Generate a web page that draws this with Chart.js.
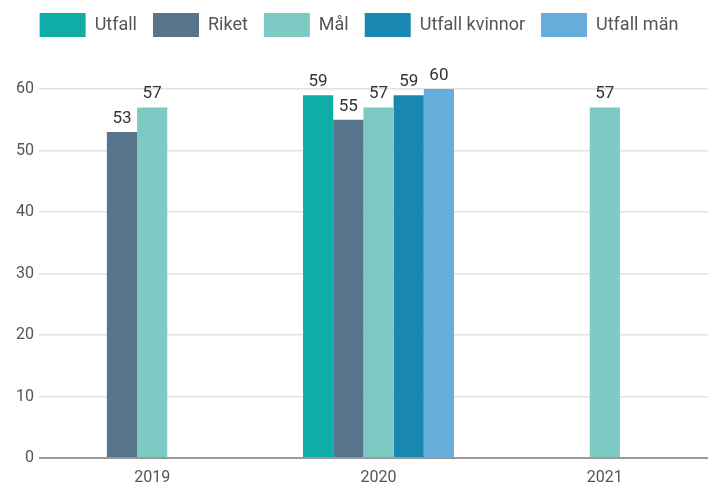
<!DOCTYPE html>
<html>
<head>
<meta charset="utf-8">
<script src="https://cdn.jsdelivr.net/npm/chart.js@4"></script>
<style>
  html, body { margin: 0; padding: 0; background: #fff; overflow: hidden; }
  #wrap { width: 720px; height: 484px; }
</style>
</head>
<body>
<div id="wrap"><canvas id="chart" width="720" height="484"></canvas></div>
<script>
// Data
const years = ['2019', '2020', '2021'];
const utfall = [null, 59, null];
const riket = [53, 55, null];
const mal = [57, 57, 57];
const utfallKvinnor = [null, 59, null];
const utfallMan = [null, 60, null];
const yTicks = [0, 10, 20, 30, 40, 50, 60];

const colors = {
    utfall: '#0fada8',
    riket: '#56748c',
    mal: '#7dcac5',
    kvinnor: '#1888b0',
    man: '#67addc'
};

// push the plot down below the legend
const legendSpacing = {
    id: 'legendSpacing',
    beforeInit(chart) {
        const fit = chart.legend.fit;
        chart.legend.fit = function() {
            fit.bind(chart.legend)();
            this.height += 42;
        };
    }
};

// value labels above each bar
const valueLabels = {
    id: 'valueLabels',
    afterDatasetsDraw(chart) {
        const ctx = chart.ctx;
        ctx.save();
        ctx.font = '17px Roboto';
        ctx.fillStyle = '#333';
        ctx.textAlign = 'center';
        ctx.textBaseline = 'alphabetic';
        chart.data.datasets.forEach((ds, i) => {
            const meta = chart.getDatasetMeta(i);
            meta.data.forEach((bar, j) => {
                const v = ds.data[j];
                if (v === null || v === undefined) return;
                ctx.fillText(String(v), bar.x, bar.y - 9);
            });
        });
        ctx.restore();
    }
};

new Chart(document.getElementById('chart'), {
    type: 'bar',
    data: {
        labels: years,
        datasets: [
            { label: 'Utfall', data: utfall, backgroundColor: colors.utfall },
            { label: 'Riket', data: riket, backgroundColor: colors.riket },
            { label: 'Mål', data: mal, backgroundColor: colors.mal },
            { label: 'Utfall kvinnor', data: utfallKvinnor, backgroundColor: colors.kvinnor },
            { label: 'Utfall män', data: utfallMan, backgroundColor: colors.man }
        ]
    },
    options: {
        responsive: false,
        animation: false,
        layout: { padding: { top: -3, left: 0, right: 2, bottom: 0 } },
        datasets: {
            bar: { categoryPercentage: 0.667, barPercentage: 1.0 }
        },
        plugins: {
            legend: {
                position: 'top',
                align: 'center',
                labels: {
                    boxWidth: 46,
                    boxHeight: 24,
                    padding: 16,
                    color: '#555',
                    font: { family: 'Roboto', size: 18 }
                }
            },
            tooltip: { enabled: false }
        },
        scales: {
            y: {
                min: 0,
                max: 60,
                afterBuildTicks: axis => { axis.ticks = yTicks.map(v => ({ value: v })); },
                afterFit: axis => { axis.width = 39; },
                border: { display: false },
                grid: {
                    drawTicks: false,
                    color: ctx => ctx.tick.value === 0 ? '#9a9a9a' : '#e2e2e2',
                    lineWidth: ctx => ctx.tick.value === 0 ? 2 : 1.5
                },
                ticks: {
                    padding: 5,
                    color: '#555',
                    font: { family: 'Roboto', size: 16 }
                }
            },
            x: {
                afterFit: axis => { axis.height = 26; },
                border: { display: false },
                grid: { display: false, drawTicks: false },
                ticks: {
                    padding: 10,
                    color: '#555',
                    font: { family: 'Roboto', size: 16 }
                }
            }
        }
    },
    plugins: [legendSpacing, valueLabels]
});
</script>
</body>
</html>
